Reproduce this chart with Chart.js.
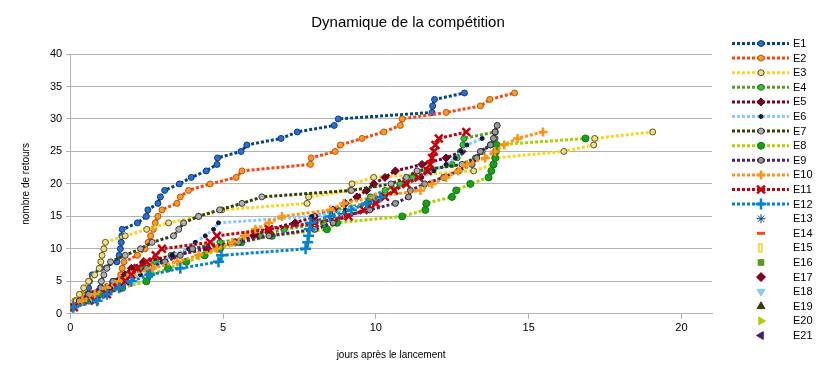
<!DOCTYPE html>
<html>
<head>
<meta charset="utf-8">
<script src="https://cdn.jsdelivr.net/npm/chart.js@4/dist/chart.umd.min.js"></script>
<style>
  html, body { margin: 0; padding: 0; background: #fff; }
  #wrap { width: 826px; height: 379px; }
</style>
</head>
<body>
<div id="wrap"><canvas id="chart" width="826" height="379"></canvas></div>
<script>
// days since launch (x) and cumulative number of returns (y) per team
const e1Days = [0.05, 0.3, 0.55, 0.6, 0.63, 0.72, 1.0, 1.53, 1.6, 1.64, 1.67, 1.69, 1.7, 2.2, 2.49, 2.54, 2.87, 2.95, 3.09, 3.57, 3.96, 4.45, 4.8, 4.82, 5.59, 5.78, 6.9, 7.43, 8.64, 8.77, 11.84, 11.86, 11.92, 12.9];
const e1Count = [1, 2, 3, 4, 5, 6, 7, 8, 9, 10, 11, 12, 13, 14, 15, 16, 17, 18, 19, 20, 21, 22, 23, 24, 25, 26, 27, 28, 29, 30, 31, 32, 33, 34];

const e2Days = [0.05, 0.15, 0.39, 1.2, 1.54, 1.65, 1.7, 1.76, 2.2, 2.45, 2.55, 2.63, 2.72, 2.78, 2.87, 3.0, 3.49, 3.6, 3.87, 4.58, 5.43, 5.62, 7.86, 7.88, 8.67, 8.84, 9.55, 10.26, 10.8, 10.86, 12.3, 13.42, 13.73, 14.54];
const e2Count = [1, 2, 3, 4, 5, 6, 7, 8, 9, 10, 11, 12, 13, 14, 15, 16, 17, 18, 19, 20, 21, 22, 23, 24, 25, 26, 27, 28, 29, 30, 31, 32, 33, 34];

const e3Days = [0.05, 0.2, 0.3, 0.44, 0.6, 0.8, 0.95, 1.0, 1.04, 1.1, 1.15, 1.8, 2.5, 3.22, 4.2, 4.96, 7.75, 7.8, 9.17, 9.22, 9.93, 13.2, 13.86, 13.9, 16.15, 17.13, 17.16, 19.06];
const e3Count = [1, 2, 3, 4, 5, 6, 7, 8, 9, 10, 11, 12, 13, 14, 15, 16, 17, 18, 19, 20, 21, 22, 23, 24, 25, 26, 27, 28];

const e4Days = [0.05, 0.3, 0.6, 1.0, 1.4, 1.8, 2.3, 2.8, 3.3, 4.0, 4.9, 6.2, 7.0, 8.3, 8.56, 8.67, 9.71, 9.82, 10.3, 10.8, 11.2, 11.68, 12.49, 12.66, 12.77, 12.85, 12.88, 13.91];
const e4Count = [1, 2, 3, 4, 5, 6, 7, 8, 9, 10, 11, 12, 13, 14, 15, 16, 17, 18, 19, 20, 21, 22, 23, 24, 25, 26, 27, 28];

const e5Days = [0.1, 0.5, 0.9, 1.3, 1.54, 1.8, 2.0, 2.4, 3.4, 4.5, 5.4, 6.0, 6.49, 7.36, 8.0, 8.6, 9.0, 9.38, 9.7, 9.93, 10.3, 10.64, 11.51, 12.3, 12.82];
const e5Count = [1, 2, 3, 4, 5, 6, 7, 8, 9, 10, 11, 12, 13, 14, 15, 16, 17, 18, 19, 20, 21, 22, 23, 24, 25];

const e6Days = [0.1, 0.3, 0.8, 1.3, 1.8, 2.3, 2.7, 3.0, 3.33, 3.87, 4.09, 4.42, 4.69, 4.85, 7.9, 9.0, 9.8, 10.2, 10.6, 11.0, 11.5, 11.9, 12.3, 12.6, 12.8, 12.98, 13.48];
const e6Count = [1, 2, 3, 4, 5, 6, 7, 8, 9, 10, 11, 12, 13, 14, 15, 16, 17, 18, 19, 20, 21, 22, 23, 24, 25, 26, 27];

const e7Days = [0.05, 0.72, 0.9, 1.0, 1.02, 1.1, 1.2, 1.32, 1.8, 2.3, 2.68, 3.38, 3.55, 3.71, 4.2, 4.89, 5.62, 6.27, 9.2, 10.5, 11.0, 11.35, 12.82, 13.26, 13.48, 13.75, 13.9];
const e7Count = [1, 2, 3, 4, 5, 6, 7, 8, 9, 10, 11, 12, 13, 14, 15, 16, 17, 18, 19, 20, 21, 22, 23, 24, 25, 26, 27];

const e8Days = [0.05, 0.5, 1.0, 1.7, 2.49, 2.6, 3.2, 3.8, 4.4, 4.9, 5.6, 6.6, 8.4, 8.73, 10.86, 11.62, 11.65, 12.49, 12.63, 13.09, 13.69, 13.78, 13.85, 13.91, 13.93, 13.95, 16.86];
const e8Count = [1, 2, 3, 4, 5, 6, 7, 8, 9, 10, 11, 12, 13, 14, 15, 16, 17, 18, 19, 20, 21, 22, 23, 24, 25, 26, 27];

const e9Days = [0.05, 0.3, 0.6, 1.0, 1.4, 1.9, 2.5, 3.1, 3.6, 4.0, 5.5, 6.5, 8.0, 8.6, 8.89, 9.8, 10.64, 11.07, 11.13, 11.6, 12.22, 12.7, 13.15, 13.3, 13.42, 13.75, 13.85, 13.9, 13.97];
const e9Count = [1, 2, 3, 4, 5, 6, 7, 8, 9, 10, 11, 12, 13, 14, 15, 16, 17, 18, 19, 20, 21, 22, 23, 24, 25, 26, 27, 28, 29];

const e10Days = [0.05, 0.4, 0.8, 1.2, 1.6, 2.0, 2.7, 3.5, 4.2, 4.8, 5.3, 5.7, 6.06, 6.5, 6.93, 8.51, 8.95, 10.0, 11.46, 11.84, 12.3, 12.7, 12.98, 13.58, 13.9, 14.2, 14.64, 15.47];
const e10Count = [1, 2, 3, 4, 5, 6, 7, 8, 9, 10, 11, 12, 13, 14, 15, 16, 17, 18, 19, 20, 21, 22, 23, 24, 25, 26, 27, 28];

const e11Days = [0.12, 0.8, 1.2, 1.54, 1.8, 2.0, 2.2, 2.5, 2.8, 3.0, 4.58, 4.8, 6.5, 8.0, 9.11, 9.6, 10.0, 10.3, 10.6, 11.0, 11.4, 11.7, 11.78, 11.84, 11.9, 11.95, 12.06, 12.96];
const e11Count = [1, 2, 3, 4, 5, 6, 7, 8, 9, 10, 11, 12, 13, 14, 15, 16, 17, 18, 19, 20, 21, 22, 23, 24, 25, 26, 27, 28];

const e12Days = [0.1, 0.88, 1.2, 1.6, 2.0, 2.6, 3.6, 4.85, 4.95, 7.7, 7.77, 7.8, 7.83, 7.86, 8.5, 9.2, 9.7, 10.15];
const e12Count = [1, 2, 3, 4, 5, 6, 7, 8, 9, 10, 11, 12, 13, 14, 15, 16, 17, 18];

const xTicks = [0, 5, 10, 15, 20];
const yTicks = [0, 5, 10, 15, 20, 25, 30, 35, 40];

function pts(days, counts) {
  return days.map((d, i) => ({ x: d, y: counts[i] }));
}

// teams that have data: line colour, marker look
const teams = [
  { label: 'E1', data: pts(e1Days, e1Count), line: '#004586', fill: '#2b6fd4', edge: '#0a3c8c', style: 'circle', r: 3 },
  { label: 'E2', data: pts(e2Days, e2Count), line: '#ff420e', fill: '#ff9a1f', edge: '#c0560a', style: 'circle', r: 3 },
  { label: 'E3', data: pts(e3Days, e3Count), line: '#ffd320', fill: '#e9dc9a', edge: '#6b5500', style: 'circle', r: 3 },
  { label: 'E4', data: pts(e4Days, e4Count), line: '#579d1c', fill: '#33c23a', edge: '#1b7a20', style: 'circle', r: 3 },
  { label: 'E5', data: pts(e5Days, e5Count), line: '#7e0021', fill: '#7e0021', edge: '#5a0016', style: 'rectRot', r: 4 },
  { label: 'E6', data: pts(e6Days, e6Count), line: '#83caff', fill: '#0b1a3c', edge: '#0b1a3c', style: 'circle', r: 2 },
  { label: 'E7', data: pts(e7Days, e7Count), line: '#314004', fill: '#b0b0b0', edge: '#3a3a3a', style: 'circle', r: 3 },
  { label: 'E8', data: pts(e8Days, e8Count), line: '#aecf00', fill: '#15a315', edge: '#0d7a0d', style: 'circle', r: 3.5 },
  { label: 'E9', data: pts(e9Days, e9Count), line: '#4b1f6f', fill: '#9a9a9a', edge: '#2a2a2a', style: 'circle', r: 3 },
  { label: 'E10', data: pts(e10Days, e10Count), line: '#ff950e', fill: '#ff950e', edge: '#ff950e', style: 'cross', r: 4.5, bw: 2.5 },
  { label: 'E11', data: pts(e11Days, e11Count), line: '#c5000b', fill: '#c5000b', edge: '#c5000b', style: 'crossRot', r: 5.5, bw: 2.5 },
  { label: 'E12', data: pts(e12Days, e12Count), line: '#0084d1', fill: '#0084d1', edge: '#0084d1', style: 'cross', r: 5.5, bw: 2.5 }
];

// teams listed in the legend only (no returns plotted)
const emptyTeams = [
  { label: 'E13', fill: '#004586', style: 'star', r: 4.5 },
  { label: 'E14', fill: '#ff420e', style: 'dash', r: 4 },
  { label: 'E15', fill: '#ffd320', style: 'bar', r: 4 },
  { label: 'E16', fill: '#579d1c', style: 'rect', r: 4 },
  { label: 'E17', fill: '#7e0021', style: 'rectRot', r: 4.5 },
  { label: 'E18', fill: '#83caff', style: 'triangle', r: 4.5, rot: 180 },
  { label: 'E19', fill: '#314004', style: 'triangle', r: 4.5 },
  { label: 'E20', fill: '#aecf00', style: 'triangle', r: 4.5, rot: 90 },
  { label: 'E21', fill: '#4b1f6f', style: 'triangle', r: 4.5, rot: -90 }
];

const datasets = teams.map((t, i) => ({
  label: t.label,
  data: t.data,
  borderColor: t.line,
  borderWidth: 3,
  borderDash: [3, 2],
  pointStyle: t.style,
  pointRadius: t.r,
  pointBackgroundColor: t.fill,
  pointBorderColor: t.edge,
  pointBorderWidth: t.bw || 1,
  tension: 0,
  fill: false,
  order: 40 - i
})).concat(emptyTeams.map((t, i) => ({
  label: t.label,
  data: [],
  showLine: false,
  borderColor: t.fill,
  pointStyle: t.style,
  pointRadius: t.r,
  pointRotation: t.rot || 0,
  pointBackgroundColor: t.fill,
  pointBorderColor: t.fill,
  order: 20 - i
})));

const sideLegend = {
  id: 'sideLegend',
  afterDraw(chart) {
    const ctx = chart.ctx;
    ctx.save();
    // title
    ctx.fillStyle = '#000';
    ctx.font = '15px "Liberation Sans", Arial, sans-serif';
    ctx.textAlign = 'center';
    ctx.textBaseline = 'middle';
    ctx.fillText('Dynamique de la compétition', 408, 23);

    ctx.font = '11px "Liberation Sans", Arial, sans-serif';
    ctx.textAlign = 'left';
    chart.data.datasets.forEach((ds, i) => {
      const y = 43.5 + i * 14.6;
      if (ds.showLine !== false) {
        ctx.save();
        ctx.strokeStyle = ds.borderColor;
        ctx.lineWidth = 3;
        ctx.setLineDash([3, 2]);
        ctx.beginPath();
        ctx.moveTo(732, y);
        ctx.lineTo(789, y);
        ctx.stroke();
        ctx.restore();
      }
      ctx.save();
      ctx.fillStyle = ds.pointBackgroundColor;
      ctx.strokeStyle = ds.pointBorderColor;
      if (ds.pointStyle === 'dash') {
        ctx.fillRect(757, y - 1.5, 8, 3);
      } else if (ds.pointStyle === 'bar') {
        ctx.lineWidth = 1.5;
        ctx.strokeRect(759, y - 4, 3, 8);
      } else {
        ctx.lineWidth = ds.pointBorderWidth || 1;
        Chart.helpers.drawPoint(ctx, {
          pointStyle: ds.pointStyle,
          radius: ds.pointRadius,
          rotation: ds.pointRotation || 0,
          borderWidth: ds.pointBorderWidth || 1
        }, 761, y);
      }
      ctx.restore();
      ctx.fillStyle = '#000';
      ctx.fillText(ds.label, 793, y + 0.5);
    });
    ctx.restore();
  }
};

new Chart(document.getElementById('chart'), {
  type: 'line',
  data: { datasets },
  options: {
    responsive: false,
    animation: false,
    layout: { padding: { top: 54, right: 114, left: 16, bottom: 14 } },
    plugins: {
      legend: { display: false },
      title: { display: false },
      tooltip: { enabled: false }
    },
    scales: {
      x: {
        type: 'linear',
        min: 0,
        max: 21,
        afterBuildTicks: (scale) => {
          scale.ticks = xTicks.map(v => ({ value: v }));
        },
        grid: { drawOnChartArea: false, color: '#b3b3b3', tickLength: 5 },
        border: { color: '#b3b3b3' },
        ticks: { color: '#000', font: { family: '"Liberation Sans", Arial, sans-serif', size: 11 }, padding: 3, maxRotation: 0 },
        title: { display: true, text: 'jours après le lancement', color: '#000', font: { family: '"Liberation Sans", Arial, sans-serif', size: 10 }, padding: { top: 11 } }
      },
      y: {
        min: 0,
        max: 40,
        afterBuildTicks: (scale) => {
          scale.ticks = yTicks.map(v => ({ value: v }));
        },
        grid: { color: '#b3b3b3', tickLength: 4 },
        border: { color: '#b3b3b3' },
        ticks: { color: '#000', font: { family: '"Liberation Sans", Arial, sans-serif', size: 11 }, padding: 4 },
        title: { display: true, text: 'nombre de retours', color: '#000', font: { family: '"Liberation Sans", Arial, sans-serif', size: 10 }, padding: { bottom: 14 } }
      }
    }
  },
  plugins: [sideLegend]
});
</script>
</body>
</html>
